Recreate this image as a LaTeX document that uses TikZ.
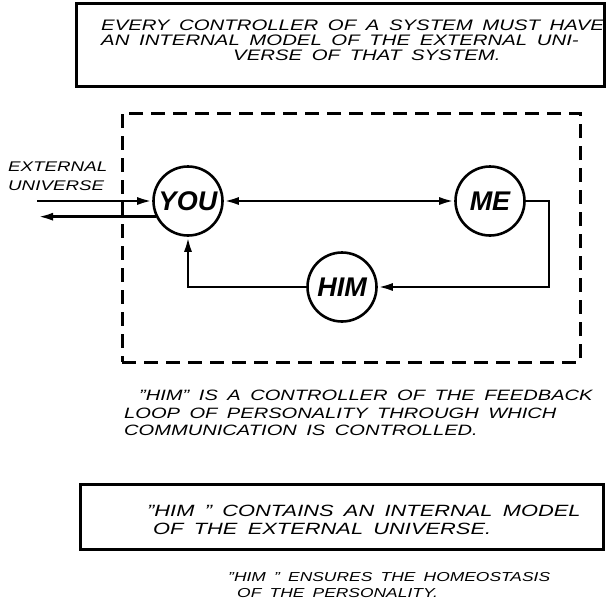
\documentclass[tikz,border=0pt]{standalone}
\usepackage{fontspec}
\usetikzlibrary{positioning,arrows.meta}
\newfontfamily\hand[FakeStretch=1.34,WordSpace=1.7]{Liberation Sans}
\newfontfamily\handbig{Liberation Sans}

\begin{document}
\begin{tikzpicture}[x=1pt,y=-1pt,
>={Latex[length=15pt,width=8pt]},
note/.style={font=\hand\itshape\fontsize{15.2}{15}\selectfont,align=left,inner sep=0pt},
notebox/.style={rectangle,draw,line width=3pt},
dashbox/.style={rectangle,draw,line width=3pt,dash pattern=on 14pt off 8pt},
ctrl/.style={circle,draw,line width=2.6pt,minimum size=69pt,inner sep=0pt,
font=\handbig\itshape\bfseries\fontsize{27}{27}\selectfont},
arrow/.style={->,line width=2.6pt}
]
\useasboundingbox (0,0) rectangle (608,606);

% law of the controller
\node[notebox,minimum width=528pt,minimum height=83pt] (law) at (340,44.5) {};
\node[note,anchor=north west] (lawtext) at (101,20) {EVERY CONTROLLER OF A SYSTEM MUST HAVE\\
AN INTERNAL MODEL OF THE EXTERNAL UNI-\\
\hspace*{132pt}VERSE OF THAT SYSTEM.};

% the personality loop
\node[dashbox,minimum width=458pt,minimum height=249pt] (loop) at (351,237.5) {};
\node[ctrl] (you) at (188,201) {YOU};
\node[ctrl] (me) at (490,201) {ME};
\node[ctrl] (him) at (342,287) {HIM};
\draw[arrow,<->] (you) -- (me);
\draw[arrow] (me.east) -- ++(23,0) |- (him.east);
\draw[arrow] (him.west) -| (you.south);

% outside
\coordinate (in) at (37,201);
\coordinate (out) at (38,216);
\node[note,anchor=north west,font=\hand\itshape\fontsize{14}{19}\selectfont] (ext) at (8,162) {EXTERNAL\\UNIVERSE};
\draw[arrow] (in) -- (you.west);
\draw[arrow] (you.206) -- (you.206 -| out);

% remarks
\node[note,anchor=north west,font=\hand\itshape\fontsize{15}{17.5}\selectfont] (remark) at (124,390)
{\hspace*{15pt}”HIM” IS A CONTROLLER OF THE FEEDBACK\\
LOOP OF PERSONALITY THROUGH WHICH\\
COMMUNICATION IS CONTROLLED.};
\node[notebox,minimum width=523pt,minimum height=65pt] (model) at (341.5,516.5) {};
\node[note,anchor=north west,font=\hand\itshape\fontsize{16.3}{18}\selectfont] (modeltext) at (147,505)
{”HIM ” CONTAINS AN INTERNAL MODEL\\
\hspace*{6pt}OF THE EXTERNAL UNIVERSE.};
\node[note,anchor=north west,font=\hand\itshape\fontsize{13}{16.5}\selectfont] (homeo) at (228,572)
{”HIM ” ENSURES THE HOMEOSTASIS\\
\hspace*{9pt}OF THE PERSONALITY.};
\end{tikzpicture}
\end{document}
